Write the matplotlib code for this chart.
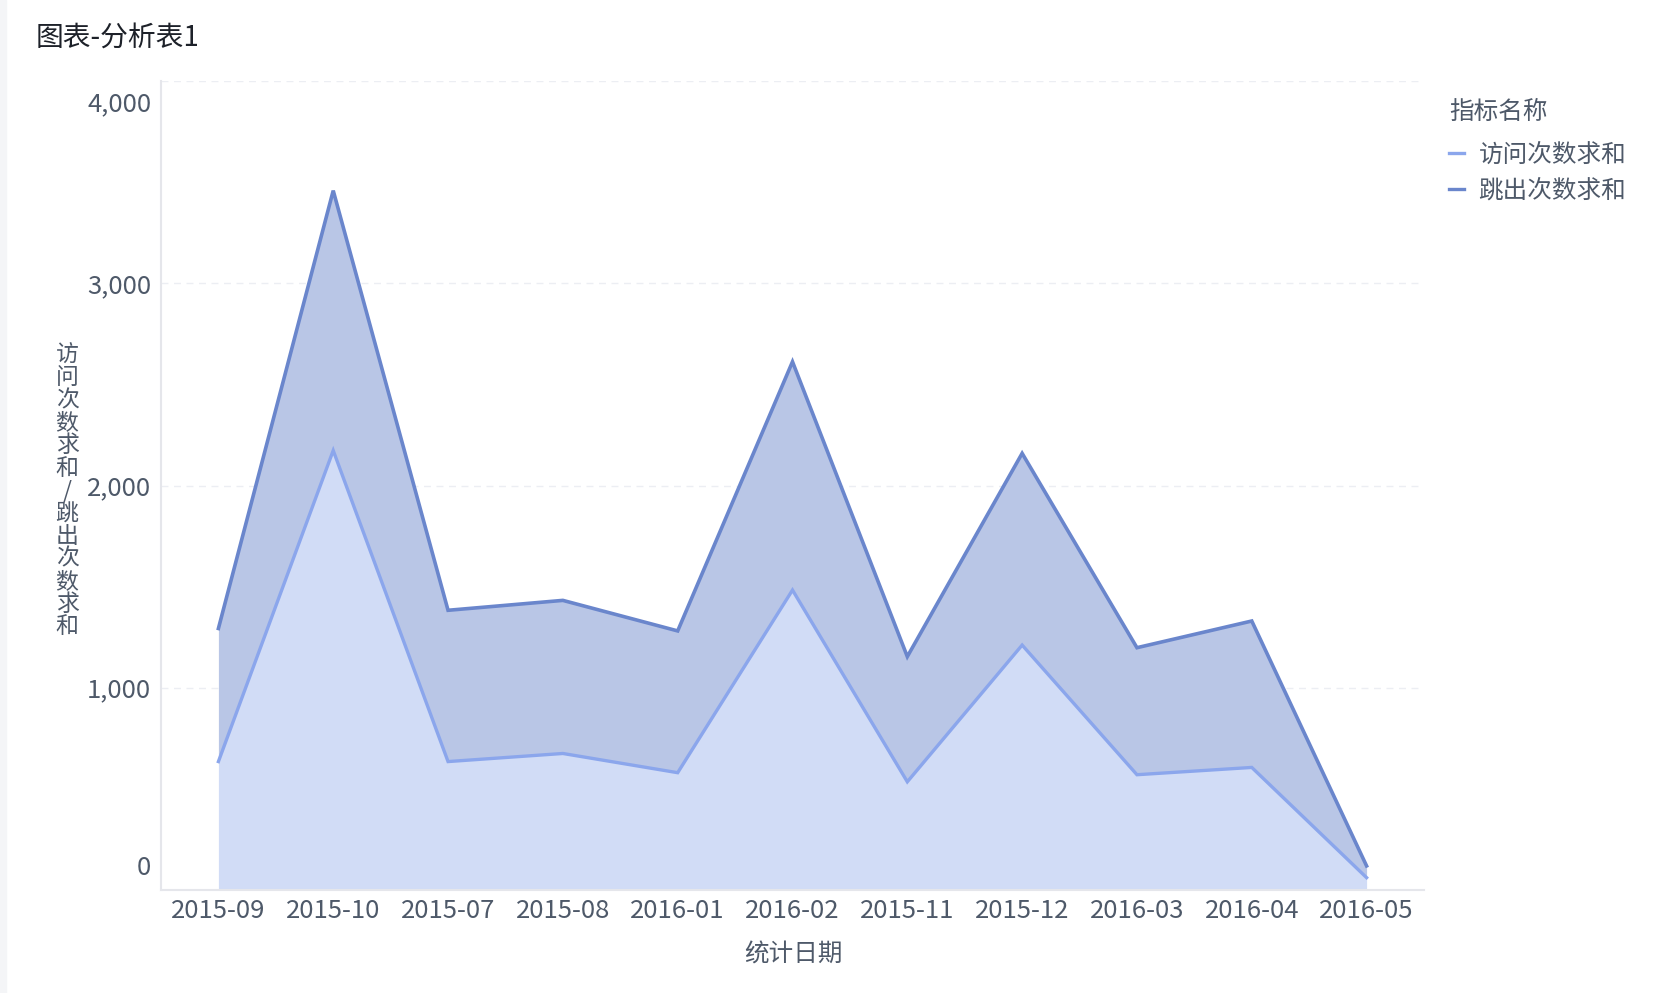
import numpy as np
import matplotlib
matplotlib.use("Agg")
from matplotlib import pyplot as plt
from matplotlib.patches import Rectangle
from matplotlib.lines import Line2D
import matplotlib.transforms as mtransforms

plt.rcParams['font.family'] = ['Noto Sans CJK SC', 'DejaVu Sans']

# Data
dates = ['2015-09', '2015-10', '2015-07', '2015-08', '2016-01', '2016-02',
         '2015-11', '2015-12', '2016-03', '2016-04', '2016-05']
visits = [635, 2173, 635, 675, 580, 1483, 535, 1211, 570, 606, 61]
bounces = [658, 1285, 748, 757, 701, 1129, 619, 948, 628, 724, 58]
series_names = ['访问次数求和', '跳出次数求和']
y_ticks = [0, 1000, 2000, 3000, 4000]

title = '图表-分析表1'
x_label = '统计日期'
y_label = '访问次数求和/跳出次数求和'
legend_title = '指标名称'

TEXT = '#4e5969'
visit_line = '#8ba6ec'
visit_fill = '#d1dcf6'
bounce_line = '#6a86cc'
bounce_fill = '#b9c6e6'

W, H = 1673, 993
fig = plt.figure(figsize=(W / 100, H / 100), dpi=100)
fig.patches.append(Rectangle((0, 0), 6 / W, 1, transform=fig.transFigure,
                             color='#f4f5f7', zorder=0))

ax = fig.add_axes([161 / W, 1 - 890 / H, (1424 - 161) / W, (890 - 81) / H])

x = np.arange(len(dates))
v = np.array(visits)
total = v + np.array(bounces)

ax.fill_between(x, 0, v, color=visit_fill, lw=0, zorder=2)
ax.fill_between(x, v, total, color=bounce_fill, lw=0, zorder=2)
ax.plot(x, v, color=visit_line, lw=2.4, zorder=3, solid_joinstyle='miter')
ax.plot(x, total, color=bounce_line, lw=2.6, zorder=4, solid_joinstyle='miter')

ax.set_xlim(-0.5, len(dates) - 0.5)
ax.set_ylim(0, 4000)
ax.set_xticks(x)
ax.set_xticklabels(dates)
ax.set_yticks(y_ticks)
ax.set_yticklabels([f'{t:,}' for t in y_ticks])
ax.tick_params(axis='both', length=0, labelsize=18.5, labelcolor=TEXT)
ax.tick_params(axis='x', pad=6)
ax.tick_params(axis='y', pad=7)

# first and last y labels are pulled inside the axis range
labels = ax.get_yticklabels()
labels[0].set_transform(labels[0].get_transform() +
                        mtransforms.ScaledTranslation(0, 25 / 100, fig.dpi_scale_trans))
labels[-1].set_transform(labels[-1].get_transform() +
                         mtransforms.ScaledTranslation(0, -20 / 100, fig.dpi_scale_trans))

ax.yaxis.grid(True, linestyle=(0, (5, 4)), color='#eceef3', lw=1)
ax.set_axisbelow(True)
for side in ['top', 'right']:
    ax.spines[side].set_visible(False)
for side in ['left', 'bottom']:
    ax.spines[side].set_color('#e5e6eb')
    ax.spines[side].set_linewidth(1.5)
    ax.spines[side].set_zorder(5)

fig.text(36 / W, 1 - 38 / H, title, fontsize=20, color='#1d2129',
         ha='left', va='center')
fig.text(793 / W, 1 - 955 / H, x_label, fontsize=17.7, color=TEXT,
         ha='center', va='center')
fig.text(67 / W, 1 - 491 / H, '\n'.join(y_label), fontsize=16.5, color=TEXT,
         ha='center', va='center', linespacing=0.98)

handles = [Line2D([], [], color=visit_line, lw=2.4),
           Line2D([], [], color=bounce_line, lw=2.4)]
leg = fig.legend(handles, series_names, title=legend_title, loc='upper left',
                 bbox_to_anchor=(1449 / W, 1 - 99 / H), frameon=False,
                 fontsize=17.7, title_fontsize=17.7, handlelength=0.6,
                 handletextpad=0.6, labelspacing=0.42, borderpad=0,
                 borderaxespad=0, alignment='left')
leg.get_title().set_color(TEXT)
leg._legend_box.sep = 12
for t in leg.get_texts():
    t.set_color(TEXT)

fig.savefig('out.png', dpi=100, facecolor='white')
